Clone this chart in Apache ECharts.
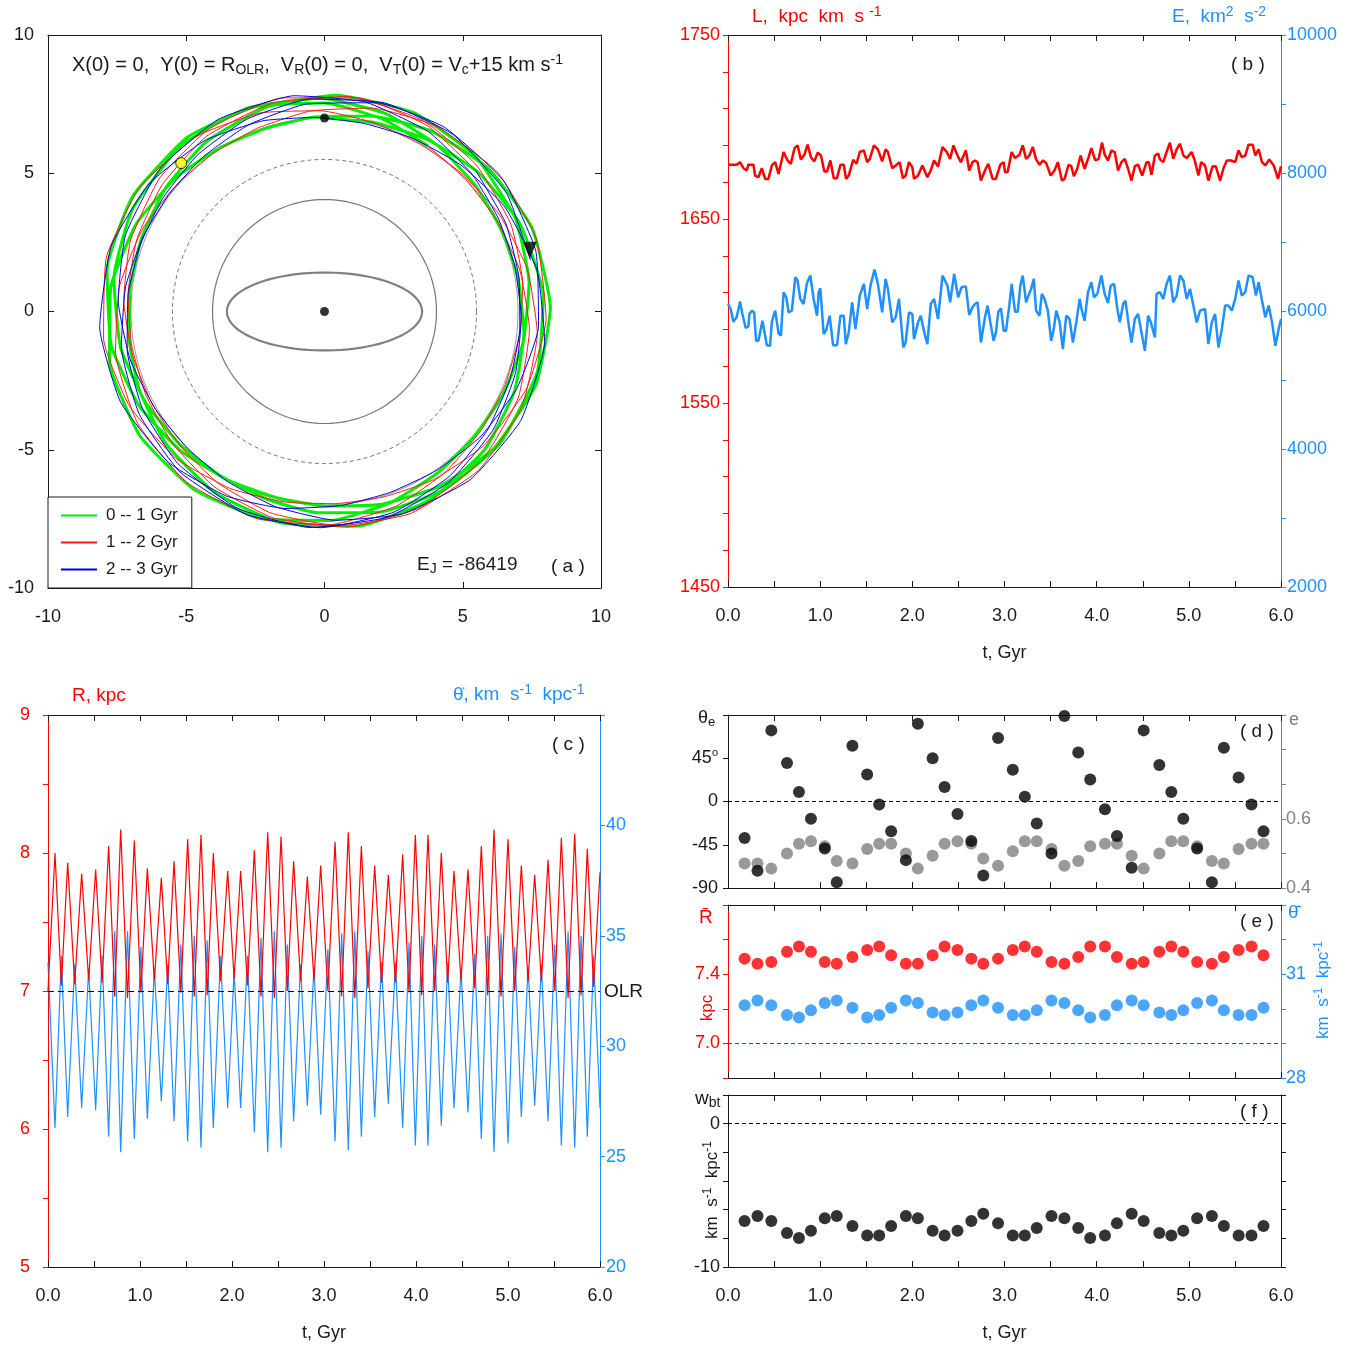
<!DOCTYPE html>
<html>
<head>
<meta charset="utf-8">
<title>Orbit near the outer Lindblad resonance</title>
<script src="https://cdn.jsdelivr.net/npm/echarts@6.0.0/dist/echarts.min.js"></script>
<style>
html, body { margin: 0; padding: 0; background: #fff; }
#chart { width: 1350px; height: 1347px; }
</style>
</head>
<body>
<div id="chart"></div>
<script>
const FONT = '"Liberation Sans", Arial, Helvetica, sans-serif';
const INK = '#1a1a1a', RED = '#ff0000', BLUE = '#1e90ff', GREY = '#808080';
const ORBIT_GREEN = '#00ee00', ORBIT_RED = '#ff1a1a', ORBIT_BLUE = '#0000dd';

// ---------- (a) orbit in the bar frame: [R (kpc), azimuth (deg)] ----------
const orbit0to1 = [
  [7.00,90],[7.07,75],[7.25,59],[7.50,42],[7.75,24],[7.93,4],[8.00,344],[7.94,323],[7.76,304],[7.52,285],[7.28,268],[7.10,253],
  [7.04,238],[7.10,223],[7.26,207],[7.49,190],[7.71,171],[7.87,152],[7.93,131],[7.87,111],[7.71,91],[7.49,73],[7.27,56],[7.11,40],
  [7.05,25],[7.10,10],[7.25,354],[7.45,337],[7.65,319],[7.80,299],[7.85,279],[7.80,258],[7.66,239],[7.47,220],[7.27,203],[7.13,188],
  [7.08,173],[7.13,158],[7.28,142],[7.48,125],[7.68,106],[7.83,87],[7.88,66],[7.83,46],[7.68,26],[7.47,8],[7.27,351],[7.12,335],
  [7.06,320],[7.13,305],[7.31,289],[7.56,272],[7.80,254],[7.98,234],[8.05,214],[7.98,193],[7.78,174],[7.51,155],[7.23,138],[7.03,123],
  [6.96,108],[7.04,93],[7.26,77],[7.57,60],[7.87,41],[8.09,22],[8.17,1],[8.09,341],[7.87,321],[7.56,303],[7.26,286],[7.03,270],
  [6.95,255],[7.03,240],[7.24,224],[7.52,207],[7.81,189],[8.01,169],[8.09,149],[8.02,128],[7.82,109],[7.54,90],[7.27,73],[7.06,58]
];
const orbit1to2 = [
  [7.06,58],
  [6.99,43],[7.05,28],[7.22,12],[7.44,355],[7.67,336],[7.83,317],[7.89,296],[7.84,276],[7.69,256],[7.49,238],[7.28,221],[7.13,205],
  [7.08,190],[7.13,175],[7.27,159],[7.45,142],[7.64,124],[7.77,104],[7.82,84],[7.77,63],[7.63,44],[7.44,25],[7.24,8],[7.10,353],
  [7.05,338],[7.11,323],[7.27,307],[7.50,290],[7.72,271],[7.88,252],[7.94,231],[7.88,211],[7.70,191],[7.47,173],[7.23,156],[7.05,140],
  [6.99,125],[7.06,110],[7.27,94],[7.55,77],[7.82,59],[8.03,39],[8.10,19],[8.02,358],[7.82,339],[7.53,320],[7.25,303],[7.04,288],
  [6.96,273],[7.04,258],[7.25,242],[7.55,225],[7.84,206],[8.05,187],[8.13,166],[8.05,146],[7.84,126],[7.55,108],[7.26,91],[7.05,75],
  [6.97,60],[7.04,45],[7.23,29],[7.49,12],[7.74,354],[7.93,334],[8.00,314],[7.94,293],[7.77,274],[7.54,255],[7.30,238],[7.13,223],
  [7.07,208],[7.12,193],[7.27,177],[7.47,160],[7.67,141],[7.82,122],[7.87,101],[7.82,81],[7.68,61],[7.48,43]
];
const orbit2to3 = [
  [7.48,43],[7.29,26],[7.14,10],
  [7.09,355],[7.14,340],[7.29,324],[7.48,307],[7.68,289],[7.82,269],[7.87,249],[7.81,228],[7.66,209],[7.46,190],[7.25,173],[7.10,158],
  [7.04,143],[7.11,128],[7.29,112],[7.53,95],[7.78,76],[7.95,57],[8.02,36],[7.95,16],[7.76,356],[7.49,338],[7.23,321],[7.03,305],
  [6.96,290],[7.04,275],[7.26,259],[7.56,242],[7.85,224],[8.07,204],[8.15,184],[8.07,163],[7.85,144],[7.55,125],[7.25,108],[7.03,93],
  [6.95,78],[7.03,63],[7.24,47],[7.54,30],[7.83,11],[8.04,352],[8.12,331],[8.05,311],[7.84,291],[7.56,273],[7.28,256],[7.08,240],
  [7.00,225],[7.06,210],[7.24,194],[7.47,177],[7.71,159],[7.88,139],[7.94,119],[7.88,98],[7.72,79],[7.51,60],[7.29,43],[7.13,28],
  [7.07,13],[7.12,358],[7.26,342],[7.45,325],[7.64,306],[7.78,287],[7.83,266],[7.78,246],[7.64,226],[7.46,208],[7.27,191],[7.13,175],
  [7.08,160],[7.14,145],[7.29,129],[7.50,112],[7.70,94],[7.85,74],[7.91,54],[7.85,33],[7.68,14]
];
const barCentre = [0, 0];
const startPoint = [0, 7];
const yellowMarker = [7.46, 134];
const endMarker = [7.75, 16.6];
const olrRadius = 7.0, dashedRadius = 5.5, innerRadius = 4.05;
const barSemiMajor = 3.53, barSemiMinor = 1.41;

// ---------- (b) angular momentum and energy: [t (Gyr), value] ----------
const angularMomentum = [
  [0,1679.5],[0.094,1679.5],[0.131,1680.9],[0.167,1677.6],[0.203,1676.4],[0.221,1679.5],[0.276,1679.5],[0.294,1673.6],[0.330,1672.7],[0.367,1677.6],
  [0.403,1671.8],[0.439,1671.8],[0.476,1679.1],[0.512,1680.9],[0.548,1674.5],[0.566,1674.5],[0.603,1686.4],[0.646,1681.8],[0.682,1680.0],[0.722,1688.5],
  [0.755,1690.0],[0.791,1682.4],[0.828,1684.9],[0.864,1690.4],[0.900,1683.6],[0.936,1681.3],[0.973,1686.0],[1.009,1684.5],[1.045,1675.8],[1.074,1675.8],
  [1.111,1681.8],[1.147,1672.2],[1.183,1672.2],[1.220,1679.5],[1.256,1679.5],[1.281,1671.8],[1.310,1673.6],[1.358,1682.2],[1.394,1680.0],[1.430,1686.4],
  [1.474,1687.3],[1.510,1680.9],[1.539,1682.7],[1.583,1690.0],[1.626,1687.8],[1.673,1681.3],[1.710,1687.8],[1.735,1686.4],[1.782,1677.6],[1.819,1679.1],
  [1.862,1680.9],[1.898,1672.2],[1.927,1673.6],[1.964,1680.9],[2.000,1678.2],[2.018,1671.8],[2.062,1673.6],[2.109,1679.1],[2.163,1672.7],[2.200,1676.4],
  [2.236,1681.8],[2.279,1678.5],[2.327,1689.1],[2.374,1686.4],[2.410,1682.7],[2.446,1690.0],[2.490,1684.5],[2.526,1680.9],[2.581,1687.3],[2.617,1676.4],
  [2.653,1680.9],[2.679,1681.8],[2.708,1680.9],[2.744,1670.9],[2.799,1677.6],[2.824,1680.0],[2.871,1671.8],[2.907,1671.8],[2.955,1679.6],[2.991,1680.9],
  [3.005,1675.5],[3.034,1675.5],[3.078,1686.4],[3.114,1683.1],[3.162,1684.9],[3.198,1690.0],[3.234,1682.7],[3.270,1684.5],[3.307,1689.1],[3.343,1682.4],
  [3.380,1679.5],[3.416,1681.8],[3.452,1680.5],[3.500,1673.6],[3.543,1676.4],[3.579,1680.9],[3.623,1670.9],[3.652,1671.8],[3.695,1679.5],[3.724,1678.7],
  [3.753,1673.3],[3.789,1677.3],[3.826,1684.5],[3.869,1677.3],[3.913,1683.6],[3.942,1688.5],[3.985,1681.8],[4.022,1682.7],[4.058,1691.5],[4.087,1685.0],
  [4.123,1681.8],[4.160,1687.3],[4.196,1686.4],[4.232,1676.4],[4.269,1680.9],[4.305,1682.7],[4.341,1677.3],[4.378,1670.9],[4.414,1678.7],[4.450,1679.5],
  [4.494,1673.6],[4.541,1680.9],[4.566,1680.9],[4.595,1674.0],[4.632,1684.5],[4.668,1685.5],[4.686,1682.4],[4.722,1680.9],[4.759,1686.4],[4.795,1691.5],
  [4.831,1682.7],[4.868,1687.8],[4.904,1690.9],[4.941,1684.5],[4.977,1683.1],[5.031,1686.4],[5.067,1681.3],[5.104,1673.6],[5.133,1680.9],[5.176,1679.1],
  [5.212,1670.9],[5.256,1678.5],[5.292,1678.7],[5.339,1670.9],[5.376,1677.6],[5.412,1681.8],[5.459,1681.8],[5.503,1680.9],[5.539,1687.3],[5.575,1683.6],
  [5.612,1684.5],[5.648,1690.4],[5.692,1690.4],[5.721,1684.5],[5.757,1687.8],[5.794,1680.9],[5.830,1679.1],[5.873,1682.4],[5.921,1679.1],[5.968,1671.8],
  [6.000,1678.7]
];
const energy = [
  [0,6102],[0.029,6029],[0.058,5845],[0.094,5908],[0.131,6136],[0.156,5956],[0.192,5753],[0.221,5777],[0.232,5956],[0.258,6005],
  [0.283,5981],[0.305,5569],[0.330,5569],[0.374,5859],[0.421,5505],[0.457,5496],[0.476,5845],[0.512,6005],[0.548,5680],[0.574,5641],
  [0.603,6272],[0.632,6199],[0.657,5981],[0.693,6005],[0.730,6490],[0.755,6441],[0.784,6175],[0.820,6102],[0.857,6407],[0.893,6514],
  [0.929,6175],[0.966,5932],[0.984,6272],[1.002,6330],[1.038,5665],[1.067,5728],[1.103,5932],[1.140,5505],[1.183,5505],[1.220,5932],
  [1.256,5932],[1.278,5520],[1.310,5690],[1.347,6126],[1.383,5738],[1.430,6223],[1.474,6393],[1.510,6029],[1.546,6368],[1.590,6601],
  [1.626,6393],[1.673,5981],[1.710,6465],[1.735,6320],[1.782,5835],[1.819,5908],[1.855,6175],[1.902,5472],[1.927,5544],[1.964,5981],
  [2.000,5956],[2.018,5593],[2.062,5835],[2.091,5932],[2.134,5665],[2.163,5520],[2.200,6102],[2.236,6175],[2.279,5884],[2.327,6514],
  [2.381,6368],[2.410,6126],[2.454,6538],[2.497,6199],[2.534,6344],[2.581,6354],[2.617,5942],[2.653,6053],[2.679,6102],[2.708,6126],
  [2.744,5544],[2.788,5908],[2.817,6078],[2.846,5835],[2.882,5569],[2.907,5690],[2.933,5990],[2.962,6039],[2.991,5714],[3.016,5714],
  [3.053,6087],[3.078,6393],[3.114,5990],[3.143,5990],[3.172,6368],[3.198,6514],[3.234,6126],[3.260,6223],[3.289,6320],[3.318,6465],
  [3.343,6005],[3.380,5932],[3.405,6247],[3.434,6175],[3.470,6005],[3.506,5569],[3.535,5738],[3.561,6005],[3.597,5845],[3.633,5447],
  [3.670,5932],[3.706,5884],[3.742,5544],[3.779,5835],[3.815,6175],[3.840,6005],[3.869,5859],[3.906,6272],[3.942,6417],[3.971,6199],
  [4.007,6247],[4.051,6514],[4.087,6247],[4.123,6116],[4.152,6368],[4.189,6393],[4.225,6029],[4.251,5835],[4.287,6102],[4.312,6150],
  [4.349,5787],[4.378,5544],[4.414,5884],[4.450,5956],[4.486,5690],[4.523,5423],[4.559,5932],[4.588,5835],[4.632,5617],[4.650,6247],
  [4.686,6272],[4.722,6175],[4.759,6393],[4.795,6514],[4.831,6126],[4.868,6223],[4.904,6514],[4.941,6441],[4.977,6175],[5.013,6320],
  [5.049,6078],[5.086,5835],[5.122,6005],[5.176,6029],[5.212,5520],[5.249,5835],[5.285,5956],[5.321,5472],[5.358,5738],[5.394,6078],
  [5.430,6078],[5.467,6005],[5.503,6175],[5.539,6441],[5.575,6223],[5.612,6272],[5.648,6514],[5.692,6490],[5.728,6223],[5.757,6417],
  [5.794,6150],[5.830,5908],[5.866,6078],[5.903,5835],[5.939,5496],[5.975,5738],[6.000,5884]
];

// ---------- (c) galactocentric radius and angular velocity: [t (Gyr), value] ----------
const radius = [
  [0,7.00],[0.076,8.00],[0.145,7.04],[0.214,7.93],[0.290,7.05],[0.366,7.85],[0.442,7.08],[0.518,7.88],[0.588,7.06],[0.659,8.05],
  [0.725,6.96],[0.790,8.17],[0.864,6.95],[0.938,8.09],[1.009,6.99],[1.080,7.89],[1.156,7.08],[1.232,7.82],[1.301,7.05],[1.370,7.94],
  [1.444,6.99],[1.518,8.10],[1.590,6.96],[1.663,8.13],[1.730,6.97],[1.797,8.00],[1.875,7.07],[1.953,7.87],[2.023,7.09],[2.094,7.87],
  [2.168,7.04],[2.243,8.02],[2.315,6.96],[2.388,8.15],[2.460,6.95],[2.533,8.12],[2.601,7.00],[2.670,7.94],[2.745,7.07],[2.819,7.83],
  [2.891,7.08],[2.964,7.91],[3.042,7.00],[3.120,8.08],[3.192,6.96],[3.264,8.15],[3.335,6.95],[3.406,8.05],[3.478,7.02],[3.551,7.91],
  [3.625,7.06],[3.699,7.84],[3.777,7.06],[3.855,7.99],[3.924,6.99],[3.993,8.13],[4.062,6.97],[4.130,8.13],[4.203,7.00],[4.275,8.00],
  [4.344,7.06],[4.413,7.87],[4.489,7.08],[4.565,7.88],[4.638,7.02],[4.710,8.05],[4.779,6.97],[4.848,8.17],[4.924,6.96],[5.000,8.10],
  [5.073,7.00],[5.145,7.91],[5.218,7.07],[5.290,7.84],[5.363,7.07],[5.435,7.95],[5.508,7.00],[5.580,8.11],[5.653,6.95],[5.725,8.14],
  [5.794,6.97],[5.862,8.03],[5.930,7.03],[6.000,7.86]
];
const angularVelocity = [
  [0,33.8],[0.076,26.3],[0.145,34.1],[0.214,26.8],[0.290,33.7],[0.366,27.2],[0.442,33.5],[0.518,27.1],[0.588,34.1],[0.659,25.9],
  [0.725,35.2],[0.790,25.2],[0.864,35.2],[0.938,25.8],[1.009,34.5],[1.080,26.7],[1.156,33.5],[1.232,27.5],[1.301,33.7],[1.370,26.6],
  [1.444,34.6],[1.518,25.7],[1.590,35.0],[1.663,25.4],[1.730,34.8],[1.797,26.3],[1.875,34.1],[1.953,27.2],[2.023,33.4],[2.094,27.2],
  [2.168,34.1],[2.243,26.1],[2.315,34.9],[2.388,25.2],[2.460,35.2],[2.533,25.4],[2.601,34.6],[2.670,26.6],[2.745,33.7],[2.819,27.3],
  [2.891,33.6],[2.964,26.9],[3.042,34.4],[3.120,25.7],[3.192,35.1],[3.264,25.3],[3.335,35.2],[3.406,25.9],[3.478,34.3],[3.551,26.8],
  [3.625,33.8],[3.699,27.4],[3.777,33.8],[3.855,26.3],[3.924,34.7],[3.993,25.5],[4.062,35.0],[4.130,25.5],[4.203,34.6],[4.275,26.4],
  [4.344,33.8],[4.413,27.2],[4.489,33.5],[4.565,27.0],[4.638,34.2],[4.710,25.8],[4.779,35.0],[4.848,25.2],[4.924,35.1],[5.000,25.6],
  [5.073,34.5],[5.145,26.8],[5.218,33.6],[5.290,27.3],[5.363,33.7],[5.435,26.6],[5.508,34.6],[5.580,25.5],[5.653,35.2],[5.725,25.4],
  [5.794,35.0],[5.862,25.9],[5.930,34.1],[6.000,27.2]
];

// ---------- (d)-(f) one value per radial period ----------
const tMean = [0.18,0.32,0.47,0.64,0.77,0.90,1.05,1.18,1.35,1.51,1.64,1.77,1.93,2.06,2.22,2.35,2.49,2.64,2.77,2.93,
               3.09,3.22,3.35,3.51,3.65,3.80,3.93,4.09,4.22,4.38,4.51,4.68,4.81,4.94,5.09,5.25,5.38,5.54,5.68,5.81];
const thetaE = [-38,-72,74,40,10,-18,-49,-84,58,28,-3,-31,-61,81,45,15,-13,-41,-77,66,
                33,5,-23,-54,89,51,23,-8,-36,-69,74,38,10,-18,-49,-84,56,25,-3,-31];
const eccentricity = [0.471,0.471,0.456,0.500,0.528,0.535,0.521,0.478,0.471,0.513,0.528,0.528,0.500,0.456,0.493,0.528,0.535,0.528,0.485,0.464,
                      0.506,0.535,0.535,0.513,0.464,0.478,0.521,0.528,0.528,0.493,0.456,0.500,0.535,0.535,0.521,0.478,0.471,0.513,0.528,0.528];
const meanRadius = [7.49,7.46,7.47,7.53,7.56,7.53,7.47,7.46,7.50,7.54,7.56,7.51,7.46,7.46,7.51,7.56,7.54,7.49,7.46,7.49,
                    7.54,7.56,7.53,7.47,7.46,7.50,7.56,7.56,7.50,7.46,7.47,7.53,7.56,7.53,7.47,7.46,7.50,7.54,7.56,7.51];
const meanAngVel = [30.10,30.24,30.10,29.82,29.75,29.96,30.17,30.24,30.03,29.75,29.82,30.03,30.24,30.17,29.89,29.82,29.89,30.10,30.24,30.03,
                    29.82,29.82,29.96,30.24,30.17,29.96,29.75,29.82,30.10,30.24,30.10,29.89,29.82,29.96,30.17,30.24,29.96,29.82,29.82,30.03];
const wBar = [-6.79,-6.44,-6.79,-7.63,-7.98,-7.47,-6.60,-6.44,-7.14,-7.81,-7.81,-7.14,-6.44,-6.60,-7.47,-7.81,-7.47,-6.79,-6.28,-6.95,
              -7.81,-7.81,-7.28,-6.44,-6.60,-7.28,-7.98,-7.81,-6.95,-6.28,-6.79,-7.63,-7.81,-7.47,-6.60,-6.44,-7.14,-7.81,-7.81,-7.14];

const timeTickLabels = ['0.0','1.0','2.0','3.0','4.0','5.0','6.0'];
const legendNames = ['0 -- 1 Gyr', '1 -- 2 Gyr', '2 -- 3 Gyr'];

// ---------- helpers ----------
const near = (v, t) => Math.abs(v - t) < 1e-6;
const pairUp = (xs, ys) => xs.map((x, i) => [x, ys[i]]);
function ring(r) { const p = []; for (let a = 0; a <= 360; a += 3) p.push([r, a]); return p; }
function barOutline() {
  const p = [];
  for (let a = 0; a <= 360; a += 4) { const t = a * Math.PI / 180; p.push([barSemiMajor * Math.cos(t), barSemiMinor * Math.sin(t)]); }
  return p;
}
const timeFmt = v => near(v, Math.round(v)) ? timeTickLabels[Math.round(v)] : '';
const lab = (color, size) => ({ color, fontSize: size || 18, fontFamily: FONT });
const axLine = color => ({ show: true, onZero: false, lineStyle: { color, width: 1 } });
const subSup = (color, size) => ({
  sub: { fontSize: Math.round(size * 0.72), fontFamily: FONT, color, fill: color, padding: [Math.round(size * 0.5), 0, 0, 0] },
  sup: { fontSize: Math.round(size * 0.72), fontFamily: FONT, color, fill: color, padding: [0, 0, Math.round(size * 0.55), 0] }
});

function xPair(g, min, max, interval, fmt, name, tickLen) {
  const base = { gridIndex: g, type: 'value', min, max, interval, splitLine: { show: false } };
  const tick = { show: true, inside: true, length: tickLen || 6, lineStyle: { color: INK } };
  return [
    Object.assign({}, base, {
      position: 'bottom', axisLine: axLine(INK), axisTick: tick,
      axisLabel: fmt ? Object.assign({ formatter: fmt, margin: 20 }, lab(INK)) : { show: false },
      name: name || '', nameLocation: 'middle', nameGap: 57, nameMoveOverlap: false, nameTextStyle: lab(INK)
    }),
    Object.assign({}, base, { position: 'top', axisLine: axLine(INK), axisTick: tick, axisLabel: { show: false } })
  ];
}
function yAx(g, pos, min, max, interval, color, fmt, margin, tick, extra) {
  return Object.assign({
    gridIndex: g, type: 'value', position: pos, min, max, interval,
    splitLine: { show: false }, axisLine: axLine(color),
    axisTick: Object.assign({ show: true, lineStyle: { color } }, tick || { inside: false, length: 5 }),
    axisLabel: fmt ? Object.assign({ formatter: fmt, margin }, lab(color)) : { show: false }
  }, extra || {});
}
function txt(left, top, text, color, size, extra) {
  return Object.assign({
    type: 'text', left, top, silent: true, z: 100,
    style: { text, fill: color, fontSize: size, fontFamily: FONT, rich: subSup(color, size) }
  }, extra || {});
}
// vertical caption centred on (cx, cy), reading bottom to top
function vtxt(cx, cy, text, color, size) {
  return {
    type: 'text', x: cx, y: cy, rotation: Math.PI / 2, silent: true, z: 100,
    style: { text, fill: color, fontSize: size, fontFamily: FONT, align: 'center', verticalAlign: 'middle', rich: subSup(color, size) }
  };
}
const dashed = (value, color, dash) => ({
  silent: true, symbol: ['none', 'none'], label: { show: false }, animation: false,
  lineStyle: { color, width: 1, type: dash || [5, 4] }, data: [{ yAxis: value }]
});

const xAxes = [].concat(
  xPair(0, -10, 10, 5, v => String(v), '', 6),
  xPair(1, 0, 6, 0.5, timeFmt, 't, Gyr'),
  xPair(2, 0, 6, 0.5, timeFmt, 't, Gyr'),
  xPair(3, 0, 6, 0.5, null),
  xPair(4, 0, 6, 0.5, null),
  xPair(5, 0, 6, 0.5, timeFmt, 't, Gyr')
);
const thetaEFmt = v => near(v, -90) ? '-90' : near(v, -45) ? '-45' : near(v, 0) ? '0' : near(v, 45) ? '45{o|o}' : '';
const yAxes = [
  yAx(0, 'left', -10, 10, 5, INK, v => String(v), 14, { inside: true, length: 6 }),
  yAx(0, 'right', -10, 10, 5, INK, null, 0, { inside: true, length: 6 }),
  yAx(1, 'left', 1450, 1750, 20, RED, v => (Math.round(v) % 100 === 50 ? String(Math.round(v)) : ''), 8),
  yAx(1, 'right', 2000, 10000, 1000, BLUE, v => (Math.round(v) % 2000 === 0 ? String(Math.round(v)) : ''), 6),
  yAx(2, 'left', 5, 9, 0.5, RED, v => (near(v, Math.round(v)) ? String(Math.round(v)) : ''), 18),
  yAx(2, 'right', 20, 45, 5, BLUE, v => (v <= 40.001 ? String(Math.round(v)) : ''), 6),
  yAx(3, 'left', -90, 90, 45, INK, thetaEFmt, 10, null,
      { axisLabel: { margin: 10, color: INK, fontSize: 18, fontFamily: FONT, formatter: thetaEFmt,
        rich: { o: { fontSize: 11, fontFamily: FONT, color: INK, padding: [0, 0, 10, 0] } } } }),
  yAx(3, 'right', 0.4, 0.9, 0.1, GREY, v => near(v, 0.4) ? '0.4' : near(v, 0.6) ? '0.6' : '', 5),
  yAx(4, 'left', 6.8, 7.8, 0.2, RED, v => near(v, 7.0) ? '7.0' : near(v, 7.4) ? '7.4' : '', 8),
  yAx(4, 'right', 28, 33, 1, BLUE, v => near(v, 28) ? '28' : near(v, 31) ? '31' : '', 5),
  yAx(5, 'left', -10, 2, 2, INK, v => near(v, 0) ? '0' : near(v, -10) ? '-10' : '', 8),
  yAx(5, 'right', -10, 2, 2, INK, null, 0)
];

const option = {
  animation: false,
  backgroundColor: '#fff',
  textStyle: { fontFamily: FONT },
  grid: [
    { left: 48, top: 35, width: 553, height: 553 },
    { left: 728, top: 35, width: 553, height: 552 },
    { left: 48, top: 715, width: 552, height: 552 },
    { left: 728, top: 715, width: 553, height: 173 },
    { left: 728, top: 905, width: 553, height: 173 },
    { left: 728, top: 1095, width: 553, height: 172 }
  ],
  polar: [{ center: [324.5, 311.5], radius: 276.5 }],
  angleAxis: [{ polarIndex: 0, type: 'value', min: 0, max: 360, startAngle: 0, clockwise: false, show: false }],
  radiusAxis: [{ polarIndex: 0, type: 'value', min: 0, max: 10, show: false }],
  xAxis: xAxes,
  yAxis: yAxes,
  legend: {
    left: 48, top: 497, orient: 'vertical', selectedMode: false,
    data: legendNames, itemWidth: 36, itemHeight: 14, itemGap: 10,
    padding: [10, 14, 10, 12], backgroundColor: '#fff', borderColor: INK, borderWidth: 1,
    itemStyle: { opacity: 0 },
    textStyle: { fontSize: 17, fontFamily: FONT, color: INK, padding: [0, 0, 0, 4] }
  },
  graphic: [
    txt(72, 53, 'X(0) = 0,  Y(0) = R{sub|OLR},  V{sub|R}(0) = 0,  V{sub|T}(0) = V{sub|c}+15 km s{sup|-1}', INK, 20),
    txt(417, 555, 'E{sub|J} = -86419', INK, 19),
    txt(551, 557, '( a )', INK, 19),
    txt(752, 5, 'L,  kpc  km  s {sup|-1}', RED, 19),
    txt(1172, 5, 'E,  km{sup|2}  s{sup|-2}', BLUE, 19),
    txt(1231, 55, '( b )', INK, 19),
    txt(72, 686, 'R, kpc', RED, 19),
    txt(453, 683, 'θ\u0307, km  s{sup|-1}  kpc{sup|-1}', BLUE, 19),
    txt(552, 735, '( c )', INK, 19),
    txt(604, 982, 'OLR', INK, 19),
    txt(698, 709, 'θ{sub|e}', INK, 18),
    txt(1289, 711, 'e', GREY, 18),
    txt(1240, 722, '( d )', INK, 19),
    txt(699, 908, 'R\u0304', RED, 19),
    txt(1288, 903, 'θ\u0307\u0304', BLUE, 19),
    txt(1240, 912, '( e )', INK, 19),
    txt(695, 1089, 'w{sub|bt}', INK, 19),
    txt(1240, 1102, '( f )', INK, 19),
    vtxt(707, 1008, 'kpc', RED, 17),
    vtxt(1323, 990, 'km  s{sup|-1}  kpc{sup|-1}', BLUE, 17),
    vtxt(712, 1190, 'km  s{sup|-1}  kpc{sup|-1}', INK, 17)
  ],
  series: [
    // (a) reference curves
    { type: 'line', coordinateSystem: 'polar', polarIndex: 0, data: ring(olrRadius), symbol: 'none', silent: true,
      lineStyle: { color: '#9a9a9a', width: 1 } },
    { type: 'line', coordinateSystem: 'polar', polarIndex: 0, data: ring(dashedRadius), symbol: 'none', silent: true,
      lineStyle: { color: '#777', width: 1, type: [4, 3] } },
    { type: 'line', coordinateSystem: 'polar', polarIndex: 0, data: ring(innerRadius), symbol: 'none', silent: true,
      lineStyle: { color: '#777', width: 1.2 } },
    { type: 'line', xAxisIndex: 0, yAxisIndex: 0, data: barOutline(), symbol: 'none', silent: true,
      lineStyle: { color: '#808080', width: 2.2 } },
    // (a) orbit
    { name: legendNames[0], type: 'line', coordinateSystem: 'polar', polarIndex: 0, data: orbit0to1, symbol: 'none',
      smooth: 0.15, lineStyle: { color: ORBIT_GREEN, width: 3 }, itemStyle: { color: ORBIT_GREEN } },
    { name: legendNames[1], type: 'line', coordinateSystem: 'polar', polarIndex: 0, data: orbit1to2, symbol: 'none',
      smooth: 0.15, lineStyle: { color: ORBIT_RED, width: 1 }, itemStyle: { color: ORBIT_RED } },
    { name: legendNames[2], type: 'line', coordinateSystem: 'polar', polarIndex: 0, data: orbit2to3, symbol: 'none',
      smooth: 0.15, lineStyle: { color: ORBIT_BLUE, width: 1 }, itemStyle: { color: ORBIT_BLUE } },
    { type: 'scatter', xAxisIndex: 0, yAxisIndex: 0, data: [barCentre, startPoint], symbolSize: 9, silent: true, z: 5,
      itemStyle: { color: '#000' } },
    { type: 'scatter', coordinateSystem: 'polar', polarIndex: 0, data: [yellowMarker], symbolSize: 11, silent: true, z: 5,
      itemStyle: { color: '#ffff00', borderColor: '#000', borderWidth: 1 } },
    { type: 'scatter', coordinateSystem: 'polar', polarIndex: 0, data: [endMarker], symbol: 'triangle', symbolRotate: 180,
      symbolSize: [14, 17], silent: true, z: 5, itemStyle: { color: '#000' } },
    // (b)
    { type: 'line', xAxisIndex: 2, yAxisIndex: 2, data: angularMomentum, symbol: 'none', silent: true,
      lineStyle: { color: RED, width: 2.5 } },
    { type: 'line', xAxisIndex: 2, yAxisIndex: 3, data: energy, symbol: 'none', silent: true,
      lineStyle: { color: BLUE, width: 2.5 } },
    // (c)
    { type: 'line', xAxisIndex: 4, yAxisIndex: 5, data: angularVelocity, symbol: 'none', silent: true,
      lineStyle: { color: BLUE, width: 1.2 } },
    { type: 'line', xAxisIndex: 4, yAxisIndex: 4, data: radius, symbol: 'none', silent: true,
      lineStyle: { color: RED, width: 1.2 }, markLine: dashed(olrRadius, '#000', [6, 4]) },
    // (d)
    { type: 'scatter', xAxisIndex: 6, yAxisIndex: 7, data: pairUp(tMean, eccentricity), symbolSize: 12, silent: true,
      itemStyle: { color: GREY } },
    { type: 'scatter', xAxisIndex: 6, yAxisIndex: 6, data: pairUp(tMean, thetaE), symbolSize: 12, silent: true,
      itemStyle: { color: '#000' }, markLine: dashed(0, '#000', [4, 3]) },
    // (e)
    { type: 'scatter', xAxisIndex: 8, yAxisIndex: 8, data: pairUp(tMean, meanRadius), symbolSize: 12, silent: true,
      itemStyle: { color: RED }, markLine: dashed(olrRadius, RED, [4, 3]) },
    { type: 'scatter', xAxisIndex: 8, yAxisIndex: 9, data: pairUp(tMean, meanAngVel), symbolSize: 12, silent: true,
      itemStyle: { color: BLUE } },
    // (f)
    { type: 'scatter', xAxisIndex: 10, yAxisIndex: 10, data: pairUp(tMean, wBar), symbolSize: 12, silent: true,
      itemStyle: { color: '#000' }, markLine: dashed(0, '#000', [4, 3]) }
  ]
};

const chart = echarts.init(document.getElementById('chart'), null, { renderer: 'canvas' });
chart.setOption(option);
</script>
</body>
</html>
